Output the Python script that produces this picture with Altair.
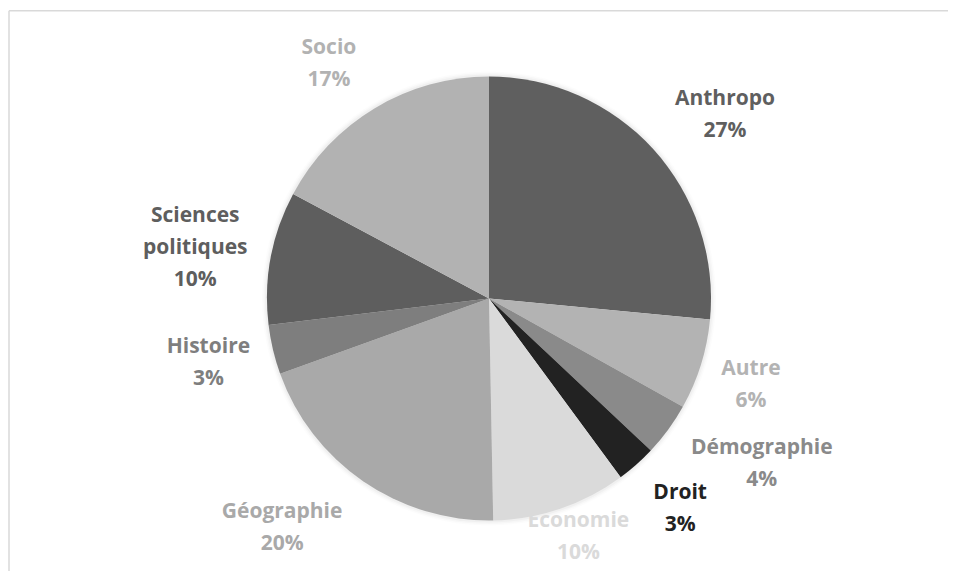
import altair as alt
import pandas as pd

# ---- data ----
categories = ["Anthropo", "Autre", "Démographie", "Droit", "Economie",
              "Géographie", "Histoire", "Sciences politiques", "Socio"]
shares = [26.5, 6.6, 3.9, 2.9, 9.8, 19.8, 3.6, 9.7, 17.2]
pct_labels = ["27%", "6%", "4%", "3%", "10%", "20%", "3%", "10%", "17%"]
name_lines = ["Anthropo", "Autre", "Démographie", "Droit", "Economie",
              "Géographie", "Histoire", "Sciences\npolitiques", "Socio"]

# ---- styling / layout ----
slice_colors = ["#5f5f5f", "#b3b3b3", "#8a8a8a", "#222222", "#dadada",
                "#a9a9a9", "#7e7e7e", "#5e5e5e", "#b2b2b2"]
# label placement around the pie (angle in share units 0-100, radius in px)
label_at = [14.5, 30.06, 33.67, 38.25, 44.3, 61.69, 71.39, 77.69, 90.47]
label_r = [298.6, 275.8, 319, 284, 255, 308.7, 288, 298, 284]

W, H = 940, 563
CX, CY = 481, 290.5
R = 222
LH = 32

labels_text = [n + "\n" + p for n, p in zip(name_lines, pct_labels)]
df = pd.DataFrame({
    "category": categories,
    "share": shares,
    "order": list(range(len(categories))),
    "label": labels_text,
    "nlines": [t.count("\n") + 1 for t in labels_text],
    "label_at": label_at,
    "label_r": label_r,
})

color_scale = alt.Scale(domain=categories, range=slice_colors)
theta_scale = alt.Scale(domain=[0, 100])

base = alt.Chart(df)

one = pd.DataFrame({"a": [1]})
shadow_layers = [
    alt.Chart(one).mark_arc(
        theta=0, theta2=6.2832, outerRadius=R + r, color="#000000", opacity=o
    ).encode(x=alt.value(CX), y=alt.value(CY))
    for r, o in [(5, 0.012), (3.5, 0.018), (2, 0.028)]
]

pie = base.mark_arc(outerRadius=R).encode(
    x=alt.value(CX),
    y=alt.value(CY),
    theta=alt.Theta("share:Q", stack=True, scale=theta_scale),
    order=alt.Order("order:Q"),
    color=alt.Color("category:N", scale=color_scale, legend=None),
)


def label_layer(n):
    return base.transform_filter(alt.datum.nlines == n).mark_text(
        font="Open Sans", fontWeight="bold", fontSize=21, lineHeight=LH,
        lineBreak="\n", align="center", baseline="middle",
        dy=-(n - 1) * LH / 2,
    ).encode(
        x=alt.value(CX),
        y=alt.value(CY),
        theta=alt.Theta("label_at:Q", stack=None, scale=theta_scale),
        radius=alt.Radius("label_r:Q", scale=None),
        text="label:N",
        color=alt.Color("category:N", scale=color_scale, legend=None),
    )


border_top = alt.Chart(one).mark_rule(
    color="#d9d9d9", strokeWidth=1.5
).encode(x=alt.value(1), x2=alt.value(W), y=alt.value(2.8))
border_left = alt.Chart(one).mark_rule(
    color="#d9d9d9", strokeWidth=1.5
).encode(x=alt.value(1), y=alt.value(2.8), y2=alt.value(H))

chart = alt.layer(
    *shadow_layers, pie, label_layer(2), label_layer(3), border_top, border_left
).properties(
    width=W, height=H, padding=0, autosize=alt.AutoSizeParams(type="none")
).configure_view(stroke=None)

chart.save("out.html", embed_options={"renderer": "svg", "actions": False})
